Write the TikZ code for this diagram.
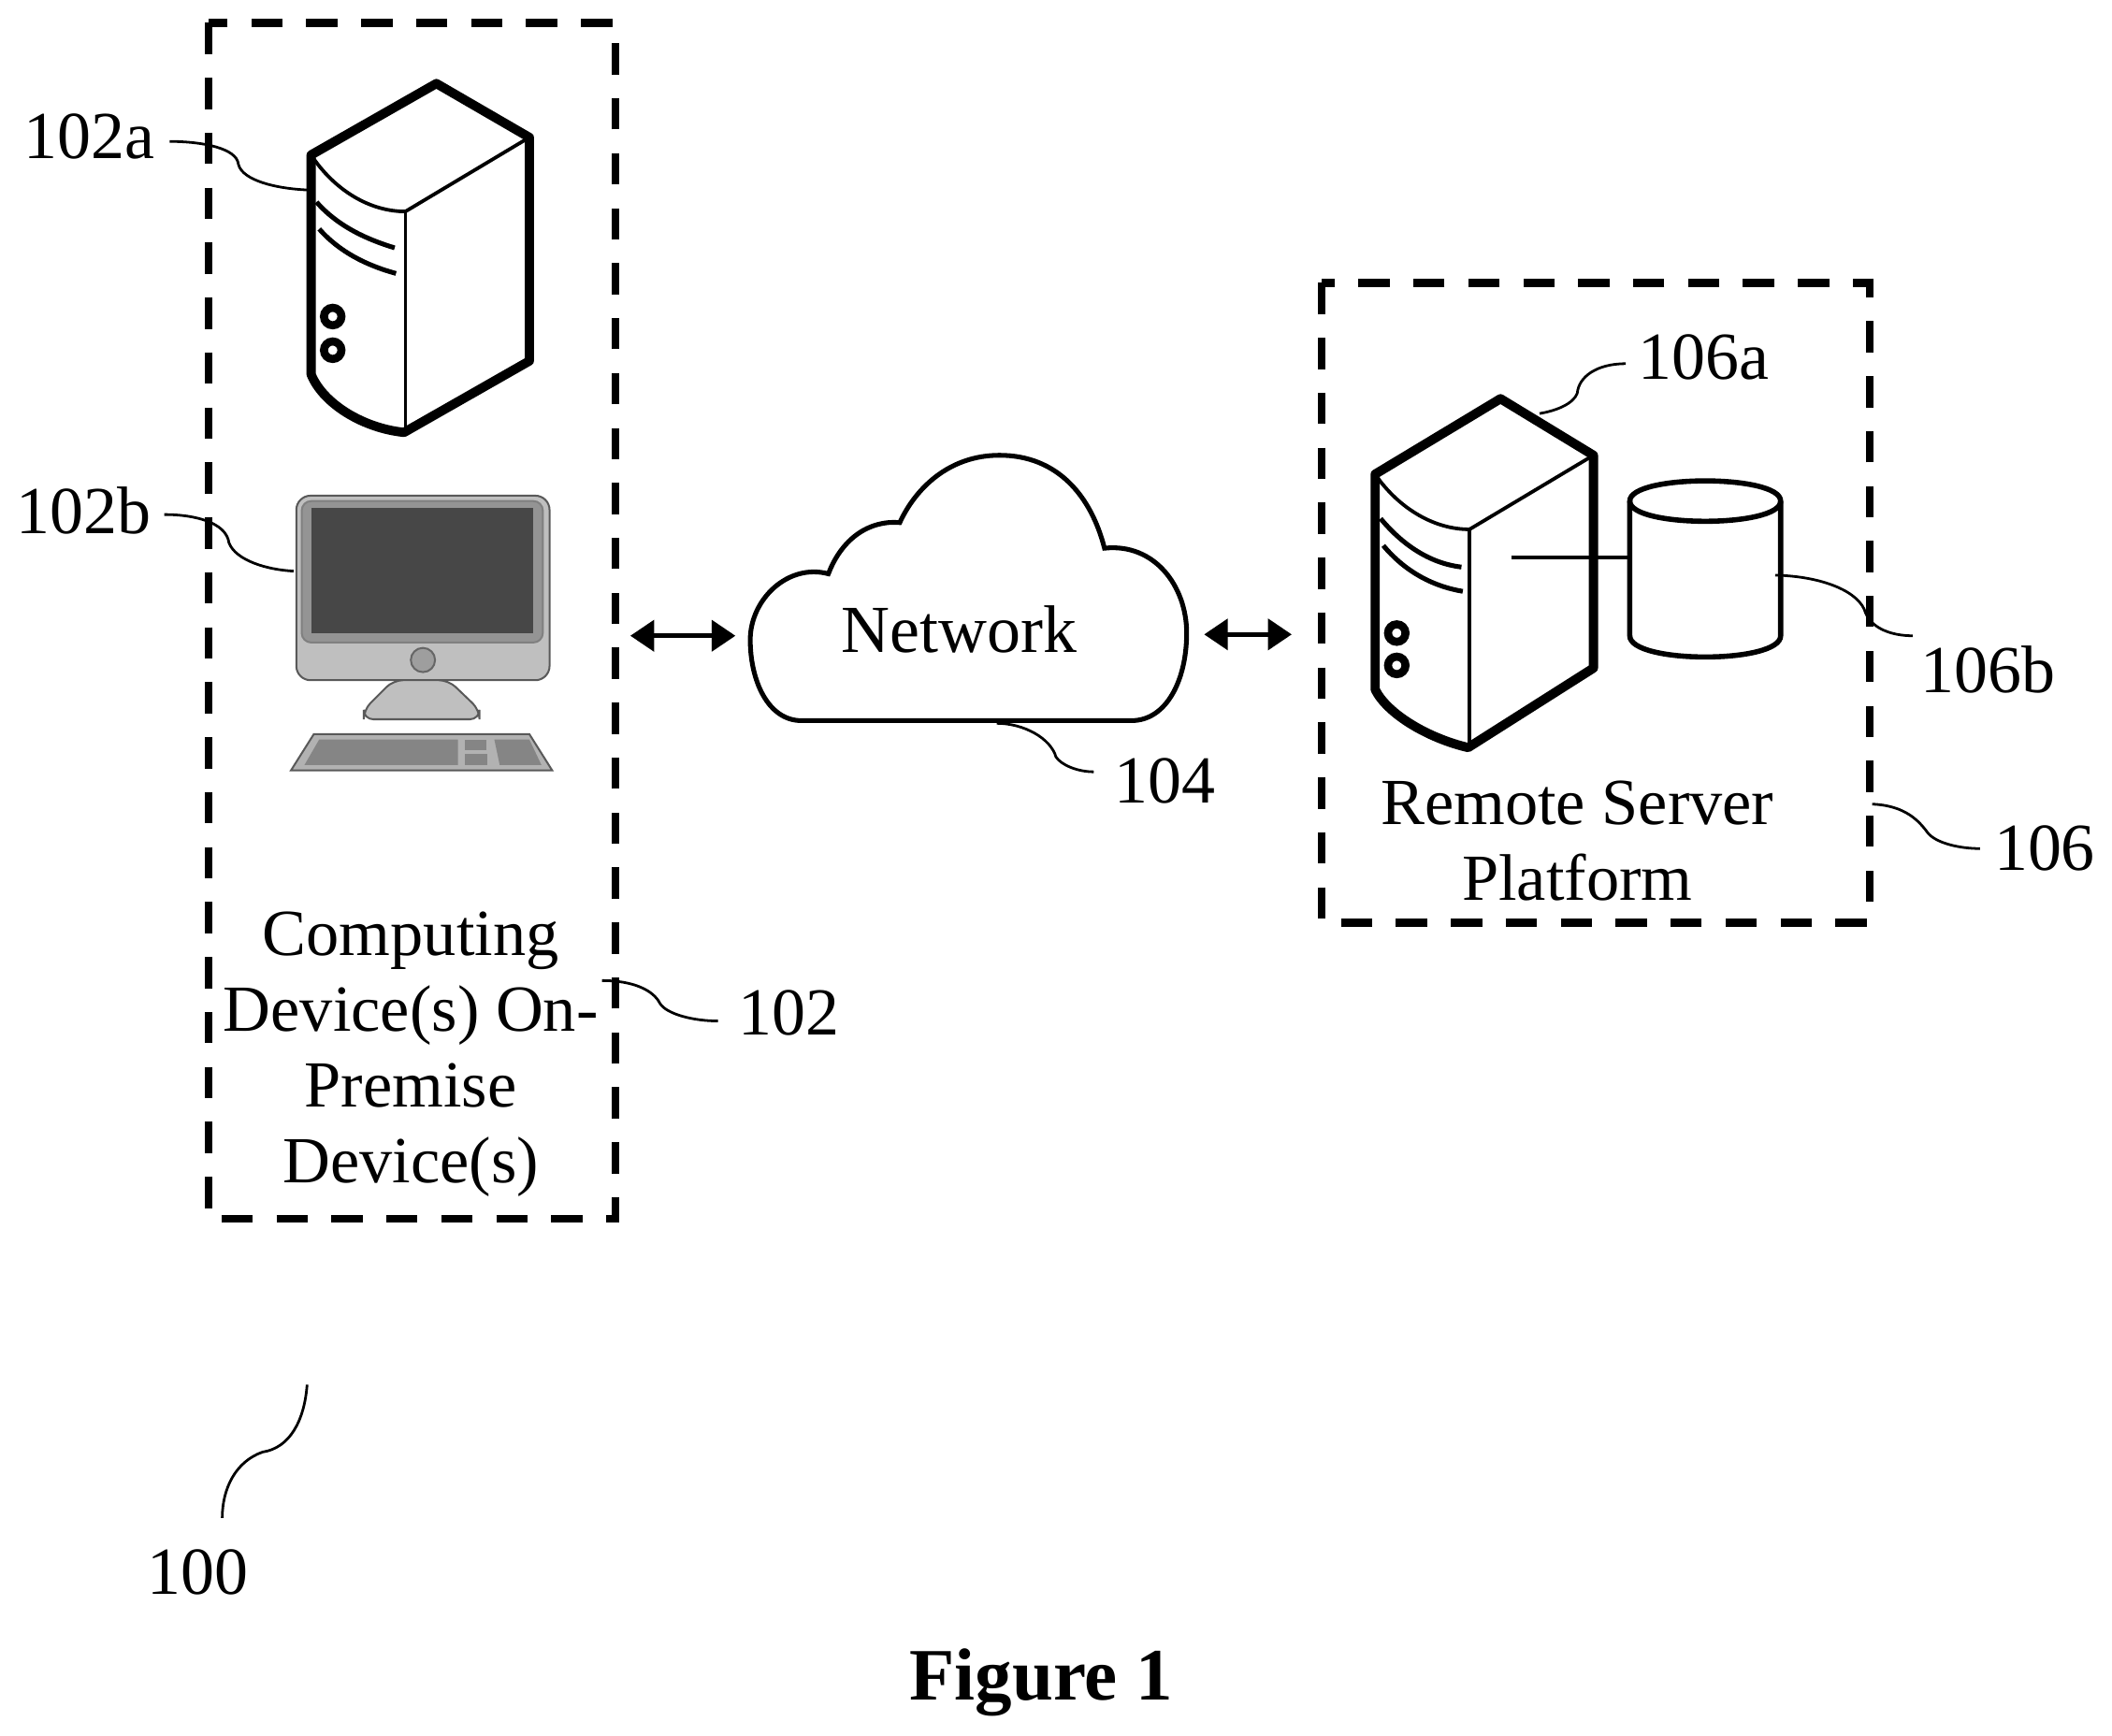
\documentclass[tikz,border=0pt]{standalone}
\usepackage{fontspec}
\setmainfont{Liberation Serif}
\usetikzlibrary{arrows.meta}
\tikzset{
 box/.style={line width=1.64pt,dash pattern=on 6.6pt off 5pt,line cap=butt},
 heavy/.style={line width=1.95pt,line join=round},
 thin1/.style={line width=0.75pt},
 leader/.style={line width=0.55pt},
 lab/.style={inner sep=0pt,font=\fontsize{14.2}{16}\selectfont},
 multi/.style={inner sep=0pt,align=flush center,font=\fontsize{13.9}{16}\selectfont},
 link/.style={line width=0.9pt,{Triangle[length=5pt,width=6.5pt]}-{Triangle[length=5pt,width=6.5pt]}},
}
\begin{document}
\begin{tikzpicture}[x=0.01cm,y=-0.01cm]
\useasboundingbox (0,0) rectangle (1568,1288.2);
% dashed boxes
\draw[box] (155,17) rectangle (457,905);
\draw[box] (981,210) rectangle (1388,685);
% server 102a
\draw[heavy,fill=white] (324,62) -- (393,102) -- (393,268) -- (300,321) .. controls (270,318) and (240,300) .. (231,278) -- (231,115) -- cycle;
\draw[thin1] (233,118) .. controls (250,142) and (275,157) .. (301,157) -- (393,102);
\draw[thin1] (301,157) -- (301,320);
\draw[line width=1pt] (235,150) .. controls (250,167) and (270,177) .. (293,184);
\draw[line width=1pt] (237,170) .. controls (252,187) and (272,197) .. (294,203);
\draw[line width=1.7pt] (247,235) circle (6.5);
\draw[line width=1.7pt] (247,260) circle (6.5);
% monitor 102b
\draw[gray!70!black,line width=0.4pt,fill=black!25,rounded corners=3pt] (220,368) rectangle (408,505);
\draw[black!50,line width=0.4pt,fill=black!42,rounded corners=2pt] (224,372) rectangle (403,477);
\fill[black!72] (231,377) rectangle (396,470);
\draw[black!60,line width=0.4pt,fill=black!38] (314,490) circle (9);
\draw[gray!70!black,line width=0.4pt,fill=black!25,rounded corners=2pt] (292,505) -- (270,527) -- (270,534) -- (356,534) -- (356,527) -- (333,505) -- cycle;
\draw[gray!70!black,line width=0.4pt,fill=black!30] (233,545) -- (393,545) -- (410,572) -- (216,572) -- cycle;
\fill[black!48] (237,549) -- (340,549) -- (340,568) -- (226,568) -- cycle;
\fill[black!48] (345,549) -- (361,549) -- (361,557) -- (345,557) -- cycle;
\fill[black!48] (345,560) -- (362,560) -- (362,568) -- (345,568) -- cycle;
\fill[black!48] (367,549) -- (393,549) -- (402,568) -- (371,568) -- cycle;
% server 106a
\draw[heavy,fill=white] (1114,296) -- (1183,338) -- (1183,496) -- (1090,555) .. controls (1060,548) and (1030,530) .. (1021,512) -- (1021,352) -- cycle;
\draw[thin1] (1023,355) .. controls (1040,378) and (1065,393) .. (1091,393) -- (1183,338);
\draw[thin1] (1091,393) -- (1091,553);
\draw[line width=1pt] (1025,385) .. controls (1040,403) and (1060,418) .. (1085,421);
\draw[line width=1pt] (1027,405) .. controls (1042,423) and (1062,435) .. (1086,439);
\draw[line width=1.7pt] (1037,470) circle (6.5);
\draw[line width=1.7pt] (1037,494) circle (6.5);
% database 106b
\draw[line width=1.1pt,fill=white] (1210,372) .. controls (1210,352) and (1322,352) .. (1322,372) -- (1322,472) .. controls (1322,493) and (1210,493) .. (1210,472) -- cycle;
\draw[line width=1.1pt] (1210,372) .. controls (1210,392) and (1322,392) .. (1322,372);
\coordinate (srvport) at (1122,414);
\coordinate (dbport) at (1208,414);
\draw[thin1] (srvport) -- (dbport);
% cloud
\node[inner sep=0pt,font=\fontsize{14.2}{16}\selectfont] (net) at (712,467) {Network};
\draw[line width=1pt] (595,535) -- (840,535) .. controls (866,535) and (881,505) .. (881,470) .. controls (881,435) and (857,403) .. (820,407) .. controls (810,368) and (785,338) .. (742,338) .. controls (705,338) and (680,362) .. (668,388) .. controls (645,386) and (625,400) .. (615,426) .. controls (585,418) and (557,445) .. (557,475) .. controls (557,505) and (570,535) .. (595,535) -- cycle;
% labels
\node[lab] (n102a) at (66,101) {102a};
\node[lab] (n102b) at (62,379) {102b};
\node[lab] (n106a) at (1265,265) {106a};
\node[lab] (n106b) at (1476,497) {106b};
\node[lab] (n104) at (865,580) {104};
\node[lab] (n106) at (1518,630) {106};
\node[lab] (n102) at (586,752) {102};
\node[lab] (n100) at (147,1167) {100};
\node[multi,text width=320] (ncomp) at (305,783) {\setlength{\baselineskip}{16pt}Computing\\Device(s) On-\\Premise\\Device(s)};
\node[multi,text width=340] (nrem) at (1171,624) {\setlength{\baselineskip}{16pt}Remote Server\\Platform};
\node[inner sep=0pt,font=\fontsize{15.6}{18}\selectfont\bfseries] (figlab) at (773,1249) {Figure 1};
% leader coordinates
\coordinate (a0) at (126,105); \coordinate (a1) at (228,141);
\coordinate (b0) at (122,382); \coordinate (b1) at (218,424);
\coordinate (c0) at (1207,270); \coordinate (c1) at (1143,307);
\coordinate (d0) at (1318,427); \coordinate (d1) at (1420,472);
\coordinate (e0) at (740,537); \coordinate (e1) at (812,573);
\coordinate (f0) at (1390,597); \coordinate (f1) at (1470,630);
\coordinate (g0) at (447,728); \coordinate (g1) at (533,758);
\coordinate (h0) at (228,1028); \coordinate (h1) at (165,1127);
\draw[leader] (a0) .. controls (150,105) and (176,110) .. (177,122) .. controls (180,134) and (205,140) .. (a1);
\draw[leader] (b0) .. controls (145,382) and (168,388) .. (170,403) .. controls (175,416) and (198,423) .. (b1);
\draw[leader] (c0) .. controls (1185,270) and (1172,280) .. (1171,292) .. controls (1168,300) and (1155,305) .. (c1);
\draw[leader] (d0) .. controls (1355,428) and (1381,440) .. (1385,455) .. controls (1390,467) and (1405,472) .. (d1);
\draw[leader] (e0) .. controls (760,537) and (780,548) .. (784,562) .. controls (788,568) and (800,573) .. (e1);
\draw[leader] (f0) .. controls (1415,598) and (1425,610) .. (1431,618) .. controls (1437,626) and (1455,630) .. (f1);
\draw[leader] (g0) .. controls (470,728) and (485,735) .. (490,745) .. controls (495,753) and (515,758) .. (g1);
\draw[leader] (h0) .. controls (226,1055) and (215,1075) .. (195,1078) .. controls (175,1085) and (165,1105) .. (h1);
% link arrows
\coordinate (la) at (468,472); \coordinate (lb) at (546,472);
\coordinate (lc) at (894,471); \coordinate (ld) at (959,471);
\draw[link] (la) -- (lb);
\draw[link] (lc) -- (ld);
\end{tikzpicture}
\end{document}
